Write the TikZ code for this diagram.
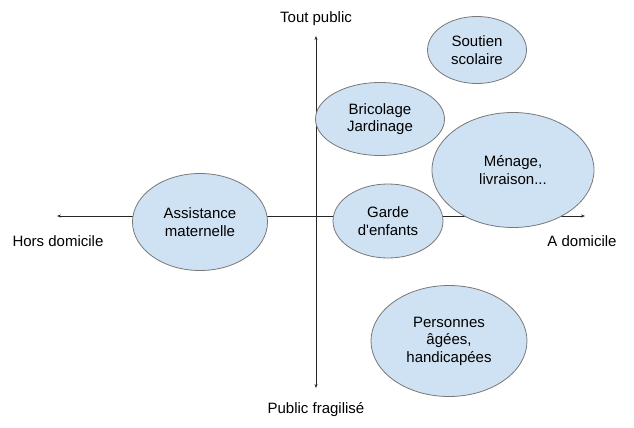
\documentclass[tikz,border=0pt]{standalone}
\usepackage{fontspec}
\setmainfont{Liberation Sans}
\usetikzlibrary{shapes.geometric,arrows.meta}
\definecolor{bubfill}{RGB}{207,226,243}
\definecolor{bubline}{RGB}{120,120,120}
\tikzset{
  bubble/.style={ellipse, draw=bubline, fill=bubfill, line width=0.8pt, inner sep=0pt, align=center, font=\fontsize{15}{17.5}\selectfont},
  axis/.style={draw=black!85, line width=0.8pt, -{Stealth[length=4pt,width=3pt]}},
  lbl/.style={font=\fontsize{15}{17}\selectfont, inner sep=0pt}
}
\begin{document}
\begin{tikzpicture}[x=1pt,y=-1pt]
\useasboundingbox (0,0) rectangle (634,428);
\coordinate (o) at (316,216);
\coordinate (xl) at (57,216);
\coordinate (xr) at (585,216);
\coordinate (yt) at (316,36);
\coordinate (yb) at (316,388);
\draw[axis] (o) -- (xl);
\draw[axis] (o) -- (xr);
\draw[axis] (o) -- (yt);
\draw[axis] (o) -- (yb);
\node[lbl] (tp) at (316,19) {Tout public};
\node[lbl] (pf) at (316,410) {Public fragilisé};
\node[lbl] (hd) at (58,241) {Hors domicile};
\node[lbl] (ad) at (582,241) {A domicile};
\node[bubble, minimum width=99pt, minimum height=67pt] (ss) at (477,50) {Soutien\\scolaire};
\node[bubble, minimum width=129pt, minimum height=73pt] (bj) at (380,119) {Bricolage\\Jardinage};
\node[bubble, minimum width=162pt, minimum height=115pt] (ml) at (513,170) {Ménage,\\livraison...};
\node[bubble, minimum width=110pt, minimum height=74pt] (ge) at (388,221) {Garde\\d\textquotesingle enfants};
\node[bubble, minimum width=135pt, minimum height=97pt] (am) at (200,222) {Assistance\\maternelle};
\node[bubble, minimum width=156pt, minimum height=111pt] (pa) at (449,341) {Personnes\\âgées,\\handicapées};
\end{tikzpicture}
\end{document}
